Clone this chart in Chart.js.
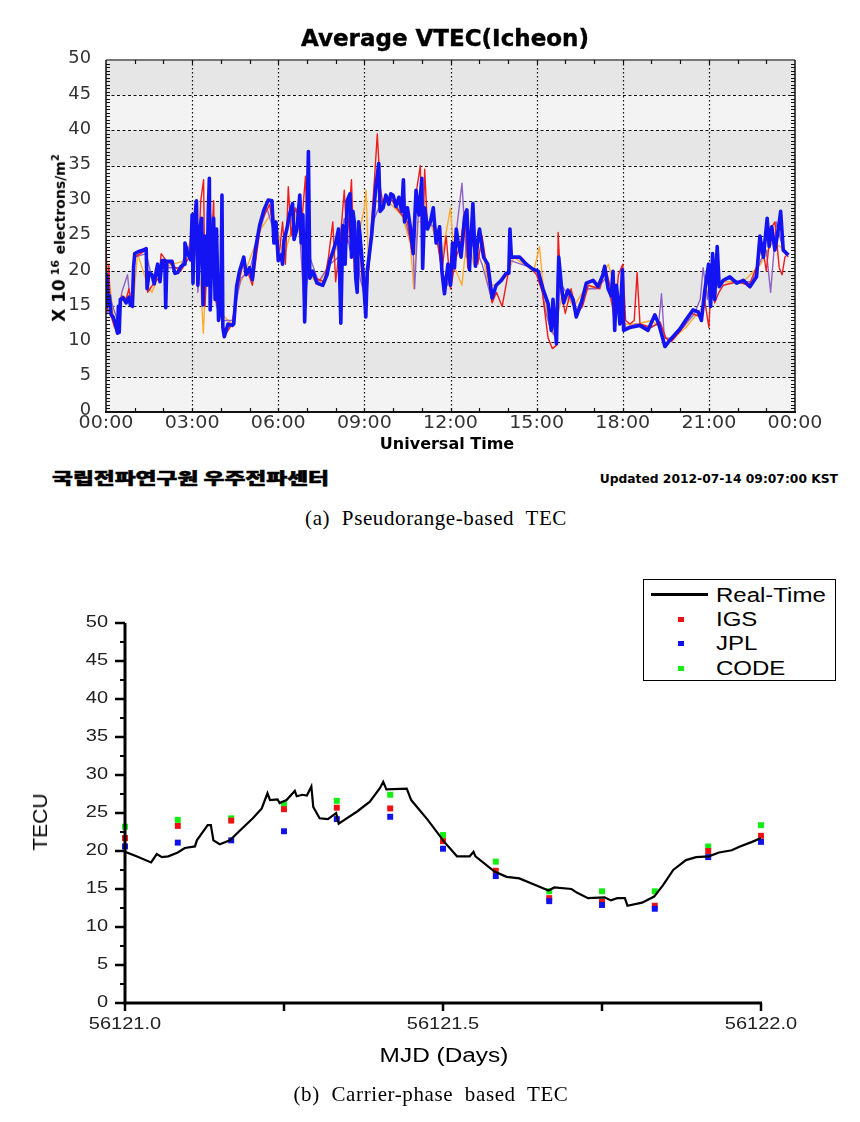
<!DOCTYPE html>
<html><head><meta charset="utf-8">
<script src="https://cdn.jsdelivr.net/npm/chart.js@4/dist/chart.umd.min.js"></script>
<style>
html,body{margin:0;padding:0;background:#fff;}
body{width:860px;height:1122px;position:relative;overflow:hidden;}
.t{position:absolute;white-space:nowrap;line-height:1;color:#000;}
canvas{position:absolute;left:0;}
</style></head><body>
<canvas id="c1" width="860" height="460" style="top:0"></canvas>
<canvas id="c2" width="860" height="500" style="top:570px"></canvas>

<div class="t" style="left:445px;top:25px;transform:translateX(-50%);font:bold 23px 'DejaVu Sans';-webkit-text-stroke:0.4px #000;">Average VTEC(Icheon)</div>
<div class="t" style="left:59px;top:238px;transform:translate(-50%,-50%) rotate(-90deg);font-family:'DejaVu Sans';font-weight:bold;"><span style="font-size:17px">X 10</span><sup style="font-size:11px"> 16</sup> <span style="font-size:14px">electrons/m<sup style="font-size:10px">2</sup></span></div>
<div class="t" style="left:447px;top:434px;transform:translateX(-50%);font:bold 16px 'DejaVu Sans';">Universal Time</div>
<div class="t" style="left:52px;top:465px;font:900 16px 'Noto Sans CJK KR';-webkit-text-stroke:0.5px #000;transform:scaleX(1.42);transform-origin:left top;">국립전파연구원 우주전파센터</div>
<div class="t" style="right:22px;top:472px;font:bold 12.3px 'DejaVu Sans';">Updated 2012-07-14 09:07:00 KST</div>
<div class="t" style="left:436px;top:518px;transform:translate(-50%,-50%);font:21px 'Liberation Serif';letter-spacing:0.6px;">(a)&nbsp; Pseudorange-based&nbsp; TEC</div>

<div class="t" style="left:40px;top:822px;transform:translate(-50%,-50%) rotate(-90deg);font:21px 'Liberation Sans';">TECU</div>
<div class="t" style="left:444px;top:1055px;transform:translate(-50%,-50%) scaleX(1.22);font:20px 'Liberation Sans';">MJD (Days)</div>
<div class="t" style="left:431px;top:1094px;transform:translate(-50%,-50%);font:21px 'Liberation Serif';letter-spacing:0.6px;">(b)&nbsp; Carrier-phase&nbsp; based&nbsp; TEC</div>

<div id="lg" style="position:absolute;left:643px;top:579px;width:191px;height:100px;border:1px solid #000;background:#fff;">
  <div style="position:absolute;left:7px;top:13px;width:57px;height:3px;background:#000"></div>
  <div class="t" style="left:72px;top:15px;transform:translateY(-50%) scaleX(1.2);transform-origin:left center;font:20px 'Liberation Sans'">Real-Time</div>
  <div style="position:absolute;left:34px;top:37px;width:6px;height:5px;background:#ee1111"></div>
  <div class="t" style="left:72px;top:39px;transform:translateY(-50%) scaleX(1.2);transform-origin:left center;font:20px 'Liberation Sans'">IGS</div>
  <div style="position:absolute;left:34px;top:61px;width:6px;height:5px;background:#1111ee"></div>
  <div class="t" style="left:72px;top:63px;transform:translateY(-50%) scaleX(1.2);transform-origin:left center;font:20px 'Liberation Sans'">JPL</div>
  <div style="position:absolute;left:34px;top:86px;width:6px;height:5px;background:#11ee11"></div>
  <div class="t" style="left:72px;top:88px;transform:translateY(-50%) scaleX(1.2);transform-origin:left center;font:20px 'Liberation Sans'">CODE</div>
</div>

<script>
// ---------- (a) Pseudorange-based TEC : hours UT / TEC ----------
const timeTickLabels = ['00:00','03:00','06:00','09:00','12:00','15:00','18:00','21:00','00:00'];
const tecTickLabels = ['0','5','10','15','20','25','30','35','40','45','50'];

const blueT = [0.00,0.03,0.06,0.12,0.18,0.25,0.33,0.40,0.43,0.46,0.50,0.60,0.70,0.80,0.85,0.92,0.96,1.00,1.15,1.30,1.40,1.43,1.50,1.60,1.68,1.75,1.80,1.88,1.95,2.05,2.08,2.12,2.30,2.40,2.50,2.60,2.72,2.75,2.85,2.95,
3.00,3.03,3.06,3.10,3.15,3.20,3.24,3.27,3.33,3.38,3.42,3.45,3.52,3.56,3.60,3.63,3.68,3.75,3.80,3.85,3.92,4.00,4.04,4.07,4.12,4.25,4.40,4.45,4.55,4.65,4.80,4.88,5.00,5.10,5.20,5.35,5.50,5.65,5.78,5.85,5.92,
6.00,6.10,6.15,6.20,6.30,6.40,6.50,6.55,6.65,6.75,6.80,6.86,6.92,6.97,7.05,7.10,7.20,7.35,7.55,7.70,7.80,8.00,8.10,8.18,8.25,8.33,8.40,8.50,8.55,8.60,8.65,8.70,8.75,8.80,8.85,8.95,
9.05,9.10,9.25,9.40,9.50,9.55,9.65,9.75,9.85,9.92,10.00,10.10,10.20,10.30,10.36,10.40,10.50,10.60,10.70,10.80,10.90,11.00,11.03,11.10,11.20,11.30,11.40,11.50,11.62,11.70,11.79,11.91,
12.00,12.07,12.14,12.20,12.26,12.37,12.49,12.57,12.66,12.72,12.78,12.87,12.94,13.01,13.15,13.30,13.45,13.59,13.77,13.94,14.03,14.07,14.12,14.41,14.64,14.87,
15.05,15.22,15.40,15.51,15.57,15.69,15.77,15.86,15.94,16.09,16.27,16.38,16.56,16.73,16.97,17.14,17.31,17.37,17.49,17.60,17.66,17.72,17.78,17.84,17.90,17.99,
18.03,18.24,18.59,18.88,19.12,19.27,19.47,19.64,19.99,20.22,20.45,20.63,20.74,20.86,20.99,
21.06,21.13,21.20,21.29,21.36,21.50,21.73,21.97,22.20,22.43,22.66,22.78,22.90,23.03,23.10,23.19,23.30,23.42,23.50,23.59,23.77];
const blueV = [15.0,19.5,15.5,16.5,13.8,13.5,12.5,11.2,15.0,11.3,16.0,16.2,15.5,16.3,15.2,15.0,20.5,22.5,22.8,23.0,23.2,17.5,19.8,19.5,18.2,20.0,21.0,18.5,21.5,21.5,14.8,21.4,21.4,19.7,19.8,20.6,21.0,24.0,22.5,21.6,
28.0,18.3,25.0,27.5,30.0,18.0,22.0,26.0,27.5,15.2,22.0,25.0,18.0,28.0,33.2,14.5,22.0,27.5,16.0,26.0,13.0,15.0,30.8,12.0,10.7,12.5,12.3,12.5,17.8,20.0,22.0,19.5,20.5,18.8,23.0,26.5,28.7,30.1,30.0,24.0,27.0,
21.5,22.3,21.0,24.4,26.0,28.2,29.6,24.5,26.0,30.8,24.0,28.0,12.8,20.0,37.0,19.0,20.0,18.3,18.0,19.5,21.5,24.0,26.0,12.6,26.5,21.0,30.0,31.0,22.0,28.5,27.0,19.0,17.0,27.0,25.0,20.0,
13.5,20.0,25.0,32.0,35.3,28.5,29.0,30.8,29.5,31.0,30.8,29.2,30.5,28.5,33.0,27.0,29.0,26.3,22.5,31.5,28.0,33.2,20.4,29.0,26.0,27.0,29.0,24.0,26.3,20.0,16.8,21.0,
18.0,24.0,20.5,26.0,24.4,22.0,27.7,28.7,20.2,25.0,29.6,20.7,24.0,26.0,22.0,21.0,16.2,18.0,18.7,19.7,19.7,26.0,22.0,22.0,21.0,20.3,
20.0,17.5,15.4,11.6,16.0,9.7,22.0,18.0,15.5,17.3,16.0,13.5,15.5,18.3,18.7,17.8,19.5,20.7,17.5,16.5,20.0,11.6,18.0,15.5,12.5,20.2,
11.6,12.0,12.3,11.6,13.8,12.3,9.3,10.2,11.8,13.2,14.5,14.2,13.0,17.3,21.0,
15.0,22.5,16.0,23.5,17.8,18.7,19.2,18.3,18.7,17.8,19.2,25.0,22.0,27.5,23.5,26.3,23.0,26.0,28.5,23.0,22.3];

const redT = [0.00,0.05,0.10,0.15,0.30,0.40,0.55,0.70,0.80,0.90,1.00,1.40,1.45,1.70,1.85,1.92,2.10,2.60,2.90,3.00,3.10,3.20,3.30,3.40,3.45,3.55,3.70,3.75,3.80,4.00,4.15,4.40,4.60,4.80,5.10,5.40,5.70,5.90,
6.05,6.15,6.25,6.35,6.45,6.60,6.80,6.95,7.05,7.30,7.60,7.75,7.90,8.00,8.15,8.30,8.40,8.55,8.65,8.80,8.90,9.05,9.20,9.35,9.45,9.55,9.65,9.90,10.20,10.50,10.65,10.80,10.95,11.02,11.10,11.20,11.40,11.55,11.70,11.85,
12.00,12.20,12.35,12.50,12.60,12.80,12.95,13.10,13.30,13.45,13.60,13.80,14.00,14.10,14.50,15.00,15.20,15.40,15.55,15.70,15.75,15.85,16.00,16.20,16.40,16.60,16.80,17.20,17.40,17.55,17.70,17.85,
18.00,18.10,18.25,18.40,18.50,18.60,19.00,19.30,19.50,19.70,20.00,20.40,20.70,20.85,21.00,21.10,21.20,21.35,21.50,22.00,22.40,22.70,22.85,23.00,23.15,23.30,23.45,23.55,23.65,23.77];
const redV = [23.5,14.5,21.0,14.0,12.0,11.5,16.5,16.0,17.5,15.0,22.0,23.0,17.0,18.5,19.0,22.5,21.5,20.0,22.0,27.0,25.0,20.0,30.0,33.0,15.0,24.0,26.0,30.0,16.0,14.0,11.0,12.5,18.0,21.5,18.0,27.0,29.5,24.0,
23.0,27.0,21.0,32.0,25.0,29.0,26.0,33.5,20.0,19.0,18.5,22.0,27.0,18.5,24.0,31.5,24.0,33.0,20.0,26.5,20.0,14.0,24.0,33.0,39.5,32.0,29.5,30.5,28.5,27.0,23.0,31.0,35.0,21.0,34.5,26.0,28.0,24.0,20.0,25.0,
17.5,22.0,24.0,28.5,20.5,25.0,21.0,25.0,19.5,15.5,17.0,15.0,19.5,22.0,21.8,19.5,17.0,10.5,9.0,9.5,25.5,17.0,14.0,17.5,14.0,15.0,18.0,17.5,20.5,18.0,13.0,19.5,
21.0,13.0,12.5,13.0,19.8,12.5,12.0,12.8,10.5,10.0,11.5,14.0,13.5,16.0,12.0,20.0,15.5,17.0,18.0,18.5,18.0,21.0,24.0,20.0,26.0,27.0,20.5,19.5,22.0,22.5];

const purpleT = [0.00,0.05,0.20,0.40,0.55,0.75,0.85,1.00,1.40,1.60,2.00,2.60,2.85,3.00,3.10,3.20,3.35,3.50,3.65,3.85,4.10,4.40,4.70,5.00,5.30,5.60,5.90,6.10,6.40,6.70,6.90,7.10,7.40,7.80,8.10,8.30,8.50,8.70,8.85,
9.05,9.30,9.60,10.00,10.40,10.70,10.75,10.90,11.20,11.50,11.70,11.90,12.10,12.40,12.55,12.80,13.10,13.40,13.70,14.00,14.10,14.80,15.10,15.30,15.50,15.70,15.80,16.10,16.40,16.70,17.10,17.40,17.70,17.90,
18.10,18.50,18.90,19.25,19.35,19.45,19.70,20.10,20.50,20.70,20.80,20.95,21.10,21.30,21.60,22.10,22.50,22.80,23.00,23.15,23.35,23.50,23.65,23.77];
const purpleV = [25.0,14.0,15.5,13.0,17.0,19.5,15.5,22.0,22.5,19.0,20.5,20.5,23.5,22.0,29.5,17.0,26.0,22.0,28.0,15.0,13.0,13.0,19.0,20.0,25.0,29.0,25.0,22.0,28.0,29.0,15.0,22.0,18.5,21.0,22.0,27.5,23.0,26.0,19.0,
16.0,27.0,30.0,30.0,27.5,23.0,17.5,30.0,27.0,26.0,20.0,18.0,22.0,32.5,22.0,24.0,21.0,16.5,18.5,20.0,21.5,20.5,20.0,14.5,11.5,10.5,18.5,16.5,14.5,17.5,17.5,19.0,14.0,16.0,
12.0,12.5,12.0,12.5,16.8,10.5,10.5,12.0,14.0,16.0,20.5,16.0,21.0,18.0,19.0,18.5,18.5,21.5,23.0,17.0,27.0,24.5,22.5,22.0];

const orangeT = [0.00,0.30,0.60,0.95,1.10,1.45,1.60,1.90,2.30,2.80,2.95,3.10,3.30,3.39,3.50,3.70,4.00,4.40,4.60,4.90,5.40,5.80,6.20,6.60,7.00,7.40,7.90,8.40,8.80,9.00,9.06,9.15,9.40,9.80,10.30,10.60,10.72,10.85,11.30,11.70,
12.00,12.15,12.40,12.60,12.80,13.10,13.30,13.60,14.00,14.20,14.90,15.10,15.20,15.40,15.60,15.90,16.30,16.60,17.10,17.50,17.70,18.00,18.50,19.00,19.30,19.60,20.20,20.80,21.10,21.50,22.20,22.80,23.20,23.50,23.77];
const orangeV = [22.0,12.5,16.5,15.5,22.5,18.0,17.0,20.0,21.0,21.5,25.0,23.0,18.0,11.2,21.0,24.0,14.0,12.5,17.5,20.5,26.0,28.5,22.0,28.0,20.0,18.0,22.0,27.0,25.0,29.0,31.5,20.0,30.0,30.0,28.0,24.0,17.5,27.0,27.0,22.0,
29.0,20.5,18.0,26.0,21.0,23.5,18.0,18.0,19.5,22.0,20.0,23.5,19.0,13.0,11.0,17.0,15.0,17.0,18.0,21.0,18.0,12.5,12.5,13.0,12.0,10.0,12.0,15.0,19.0,18.5,18.5,21.0,24.0,23.5,22.0];

// ---------- (b) Carrier-phase based TEC : MJD / TECU ----------
const mjdTickValues = [56121.0, 56121.25, 56121.5, 56121.75, 56122.0];
const mjdTickLabels = ['56121.0', '', '56121.5', '', '56122.0'];
const tecuTickLabels = ['0','5','10','15','20','25','30','35','40','45','50'];

const rtT = [56121.000,56121.018,56121.041,56121.050,56121.058,56121.068,56121.083,56121.094,56121.110,56121.113,56121.130,56121.135,56121.139,56121.149,56121.165,56121.182,56121.201,56121.215,56121.224,56121.228,
56121.240,56121.243,56121.254,56121.267,56121.270,56121.279,56121.286,56121.293,56121.296,56121.306,56121.319,56121.332,56121.336,56121.345,56121.365,56121.385,56121.401,56121.406,56121.411,56121.443,
56121.450,56121.476,56121.502,56121.522,56121.542,56121.548,56121.551,56121.581,56121.600,56121.620,56121.646,56121.666,56121.675,56121.702,56121.711,56121.728,56121.754,56121.764,56121.774,56121.786,
56121.790,56121.813,56121.832,56121.846,56121.862,56121.882,56121.898,56121.918,56121.934,56121.954,56121.967,56121.986,56122.000];
const rtV = [19.9,19.3,18.5,19.6,19.2,19.3,19.8,20.4,20.6,21.4,23.4,23.4,21.4,20.9,21.4,22.8,24.3,25.6,27.6,26.7,
26.8,26.3,26.7,27.9,27.2,27.4,27.3,28.5,25.8,24.3,24.2,25.0,23.6,24.1,25.2,26.5,28.3,29.1,28.1,28.2,
26.7,24.1,21.2,19.3,19.3,19.9,19.3,17.3,16.6,16.4,15.5,14.8,15.2,15.0,14.5,13.8,13.9,13.5,13.8,13.8,
12.8,13.2,14.0,15.5,17.5,18.8,19.2,19.3,19.8,20.1,20.6,21.2,21.7];

const gimT = [56121.000,56121.083,56121.167,56121.250,56121.333,56121.417,56121.500,56121.583,56121.667,56121.750,56121.833,56121.917,56122.000];
const igsV  = [21.7,23.3,24.0,25.5,25.7,25.6,21.3,17.4,13.8,13.3,12.8,20.0,22.0];
const jplV  = [20.6,21.1,21.4,22.6,24.2,24.5,20.3,16.7,13.4,12.9,12.4,19.2,21.2];
const codeV = [23.2,24.1,24.3,26.2,26.6,27.4,22.1,18.6,14.7,14.7,14.7,20.6,23.4];

const pts = (xs, ys) => xs.map((x, i) => ({x: x, y: ys[i]}));

function seg(ctx, x0, y0, x1, y1) { ctx.beginPath(); ctx.moveTo(x0, y0); ctx.lineTo(x1, y1); ctx.stroke(); }
function label(ctx, text, x, y, font, color, sx, align) {
  ctx.save(); ctx.font = font; ctx.fillStyle = color; ctx.textBaseline = 'middle'; ctx.textAlign = align;
  ctx.translate(x, y); ctx.scale(sx, 1); ctx.fillText(text, 0, 0); ctx.restore();
}

const frame1 = {
  id: 'frame1',
  beforeDatasetsDraw(chart) {
    const {ctx, chartArea: a, scales: {x, y}} = chart;
    ctx.save();
    ctx.fillStyle = '#f3f3f3'; ctx.fillRect(a.left, a.top, a.right - a.left, a.bottom - a.top);
    ctx.fillStyle = '#e6e6e6';
    for (let v = 5; v < 50; v += 10) {
      const y1 = y.getPixelForValue(v + 5), y0 = y.getPixelForValue(v);
      ctx.fillRect(a.left, y1, a.right - a.left, y0 - y1);
    }
    ctx.strokeStyle = '#111'; ctx.lineWidth = 1.2; ctx.setLineDash([3, 2.5]);
    for (let v = 5; v < 50; v += 5) { const py = Math.round(y.getPixelForValue(v)) + 0.5; seg(ctx, a.left, py, a.right, py); }
    ctx.setLineDash([1.5, 2.5]);
    for (let h = 3; h < 24; h += 3) { const px = Math.round(x.getPixelForValue(h)) + 0.5; seg(ctx, px, a.top, px, a.bottom); }
    ctx.restore();
  },
  afterDatasetsDraw(chart) {
    const {ctx, chartArea: a, scales: {x, y}} = chart;
    ctx.save();
    ctx.setLineDash([]);
    ctx.strokeStyle = '#777'; ctx.lineWidth = 2; seg(ctx, a.left, a.top, a.right, a.top);
    ctx.strokeStyle = '#111'; ctx.lineWidth = 1.5;
    seg(ctx, a.left, a.top, a.left, a.bottom);
    seg(ctx, a.right, a.top, a.right, a.bottom);
    ctx.lineWidth = 2; seg(ctx, a.left - 1, a.bottom, a.right + 1, a.bottom);
    ctx.lineWidth = 1;
    for (let v = 0.5; v < 50; v += 0.5) {
      const py = Math.round(y.getPixelForValue(v)) + 0.5;
      seg(ctx, a.left, py, a.left + 4, py); seg(ctx, a.right - 4, py, a.right, py);
    }
    ctx.lineWidth = 1.2;
    for (let h = 1; h < 24; h++) {
      const px = Math.round(x.getPixelForValue(h)) + 0.5;
      seg(ctx, px, a.top, px, a.top + 4); seg(ctx, px, a.bottom, px, a.bottom - 4);
    }
    ctx.restore();
    x.ticks.forEach((t, i) => label(ctx, timeTickLabels[i], x.getPixelForValue(t.value), a.bottom + 12, '17px "DejaVu Sans"', '#333', 1.12, 'center'));
    y.ticks.forEach((t, i) => label(ctx, tecTickLabels[i], a.left - 15, y.getPixelForValue(t.value) - 1, '17px "DejaVu Sans"', '#333', 1.05, 'right'));
  }
};

const frame2 = {
  id: 'frame2',
  afterDatasetsDraw(chart) {
    const {ctx, chartArea: a, scales: {x, y}} = chart;
    ctx.save(); ctx.strokeStyle = '#000';
    ctx.lineWidth = 2.5;
    y.ticks.forEach(t => { const py = y.getPixelForValue(t.value); seg(ctx, a.left - 10, py, a.left, py); });
    ctx.lineWidth = 2;
    for (let i = 0; i < y.ticks.length - 1; i++) {
      const py = y.getPixelForValue((y.ticks[i].value + y.ticks[i + 1].value) / 2); seg(ctx, a.left - 5, py, a.left, py);
    }
    ctx.lineWidth = 2.5;
    mjdTickValues.forEach(v => { const px = x.getPixelForValue(v); seg(ctx, px, a.bottom, px, a.bottom + 8); });
    ctx.lineWidth = 3;
    seg(ctx, a.left, a.top, a.left, a.bottom + 1.5);
    seg(ctx, a.left - 1.5, a.bottom, a.right + 1, a.bottom);
    ctx.restore();
    mjdTickValues.forEach((v, i) => { if (mjdTickLabels[i]) label(ctx, mjdTickLabels[i], x.getPixelForValue(v), a.bottom + 22, '16px "Liberation Sans"', '#222', 1.25, 'center'); });
    y.ticks.forEach((t, i) => label(ctx, tecuTickLabels[i], a.left - 17, y.getPixelForValue(t.value), '16px "Liberation Sans"', '#222', 1.25, 'right'));
  }
};

const lineDs = (lbl, xs, ys, color, w) => ({label: lbl, data: pts(xs, ys), borderColor: color, borderWidth: w, pointRadius: 0, tension: 0, fill: false, borderJoinStyle: 'round'});

new Chart(document.getElementById('c1'), {
  type: 'line',
  data: {datasets: [
    lineDs('blue', blueT, blueV, '#1414f2', 3.6),
    lineDs('red', redT, redV, '#ee1c1c', 1.4),
    lineDs('purple', purpleT, purpleV, '#8e62c9', 1.4),
    lineDs('orange', orangeT, orangeV, '#ffab2e', 1.4)
  ]},
  options: {
    responsive: false, animation: false, events: [],
    layout: {padding: {left: 0, top: 60, right: 65, bottom: 0}},
    plugins: {legend: {display: false}, tooltip: {enabled: false}, title: {display: false}},
    scales: {
      x: {type: 'linear', min: 0, max: 24, ticks: {stepSize: 3, display: false}, grid: {display: false}, border: {display: false}, afterFit(s) { s.height = 48; }},
      y: {type: 'linear', min: 0, max: 50, ticks: {stepSize: 5, display: false}, grid: {display: false}, border: {display: false}, afterFit(s) { s.width = 106; }}
    }
  },
  plugins: [frame1]
});

const ptDs = (lbl, ys, color) => ({label: lbl, data: pts(gimT, ys), showLine: false, pointStyle: 'rect', pointRadius: 4.2, pointBackgroundColor: color, pointBorderWidth: 0, pointBorderColor: color, clip: 8});

new Chart(document.getElementById('c2'), {
  type: 'line',
  data: {datasets: [
    {label: 'Real-Time', data: pts(rtT, rtV), borderColor: '#000', borderWidth: 2.2, pointRadius: 0, tension: 0, fill: false},
    ptDs('JPL', jplV, '#1111ee'),
    ptDs('IGS', igsV, '#ee1111'),
    ptDs('CODE', codeV, '#11ee11')
  ]},
  options: {
    responsive: false, animation: false, events: [],
    layout: {padding: {left: 0, top: 53, right: 99, bottom: 0}},
    plugins: {legend: {display: false}, tooltip: {enabled: false}, title: {display: false}},
    scales: {
      x: {type: 'linear', min: 56121.0, max: 56122.0, ticks: {stepSize: 0.25, display: false}, grid: {display: false}, border: {display: false}, afterFit(s) { s.height = 67; }},
      y: {type: 'linear', min: 0, max: 50, ticks: {stepSize: 5, display: false}, grid: {display: false}, border: {display: false}, afterFit(s) { s.width = 125; }}
    }
  },
  plugins: [frame2]
});
</script>
</body></html>
